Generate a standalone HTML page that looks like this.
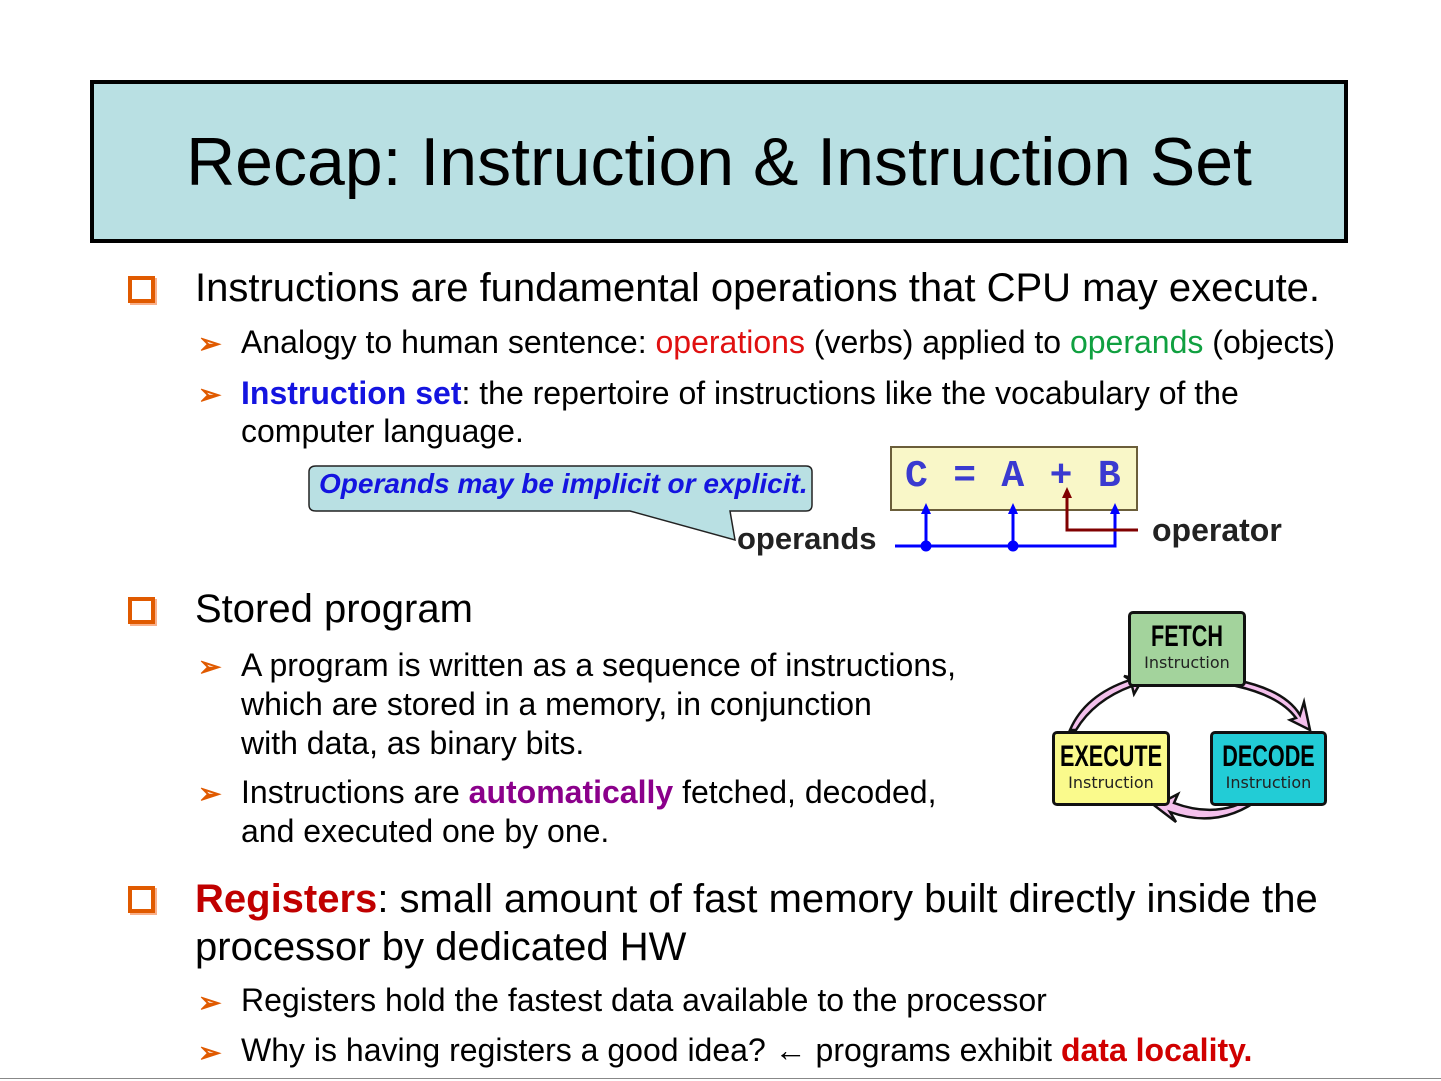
<!DOCTYPE html>
<html><head><meta charset="utf-8"><style>
body{margin:0;width:1441px;height:1081px;background:#fff;position:relative;overflow:hidden;font-family:"Liberation Sans",sans-serif;}
.a{position:absolute;white-space:nowrap;}
.t1{font-size:40px;color:#000;}
.t2{font-size:32px;color:#000;}
.sq{position:absolute;width:19px;height:19px;border:4px solid #e05a00;box-shadow:2px 2px 0 #f9b08a;}
.ar{position:absolute;color:#e05a00;font-size:28px;font-weight:bold;}
.box{position:absolute;border:3px solid #111;border-radius:5px;text-align:center;font-family:"DejaVu Sans",sans-serif;}
.box b{display:block;font-family:"Liberation Sans Narrow","Liberation Sans",sans-serif;font-weight:900;font-size:30px;line-height:32px;margin-top:7px;transform:scaleX(0.72);white-space:nowrap;margin-left:-30px;margin-right:-30px;}
.box span{display:block;font-size:16px;color:#222;}
</style></head><body>
<div class="a" style="left:90px;top:80px;width:1250px;height:155px;background:#b9e0e3;border:4px solid #000;"></div>
<div class="a" style="left:90px;top:123px;width:1258px;text-align:center;font-size:68px;">Recap: Instruction &amp; Instruction Set</div>

<div class="sq" style="left:128px;top:276px"></div>
<div class="a t1" style="left:195px;top:266px">Instructions are fundamental operations that CPU may execute.</div>
<div class="ar" style="left:198px;top:327px">➢</div>
<div class="a t2" style="left:241px;top:324px">Analogy to human sentence: <span style="color:#e01010">operations</span> (verbs) applied to <span style="color:#10a040">operands</span> (objects)</div>
<div class="ar" style="left:198px;top:378px">➢</div>
<div class="a t2" style="left:241px;top:375px"><b style="color:#1414e0">Instruction set</b>: the repertoire of instructions like the vocabulary of the</div>
<div class="a t2" style="left:241px;top:413px">computer language.</div>

<svg class="a" style="left:0;top:0" width="1441" height="1081">
<path d="M316,466 H806 Q812,466 812,472 V505 Q812,511 806,511 H730 L735,540 L630,511 H316 Q309,511 309,505 V472 Q309,466 316,466Z" fill="#b9e0e3" stroke="#222" stroke-width="1.5"/>
<rect x="891" y="447" width="246" height="63" fill="#f9f7c8" stroke="#6b5e3a" stroke-width="2"/>
<g fill="#0000ff" stroke="#0000ff">
<path d="M895,546 H1115 V512 M926,546 V512 M1013,546 V512" fill="none" stroke-width="3"/>
<circle cx="926" cy="546" r="5"/><circle cx="1013" cy="546" r="5"/>
<path d="M926,503 L921,514 H931Z M1013,503 L1008,514 H1018Z M1115,503 L1110,514 H1120Z" stroke="none"/>
</g>
<path d="M1138,530 H1067 V496" fill="none" stroke="#800000" stroke-width="3"/>
<path d="M1067,487 L1062,498 H1072Z" fill="#800000"/>
<g fill="#f4c0ec" stroke="#111" stroke-width="2.5">
<path d="M1070,730 Q1085,695 1130,680 L1124,676 L1142,680 L1134,694 L1132,686 Q1094,700 1076,730Z"/>
<path d="M1236,680 Q1285,690 1300,715 L1304,702 L1310,730 L1290,720 L1296,718 Q1280,696 1236,686Z"/>
<path d="M1262,797 Q1220,830 1170,812 L1176,822 L1155,806 L1178,794 L1174,803 Q1220,820 1256,795Z"/>
</g>
</svg>
<div class="a" style="left:319px;top:468px;font-size:28px;font-weight:bold;font-style:italic;color:#1414e0">Operands may be implicit or explicit.</div>
<div class="a" style="left:905px;top:455px;font-family:'Liberation Mono',monospace;font-weight:bold;font-size:38px;letter-spacing:1.3px;color:#3a3ad0;">C = A + B</div>
<div class="a" style="left:737px;top:521px;font-size:31px;font-weight:bold;color:#222">operands</div>
<div class="a" style="left:1152px;top:512px;font-size:32px;font-weight:bold;color:#222">operator</div>

<div class="sq" style="left:128px;top:597px"></div>
<div class="a t1" style="left:195px;top:587px">Stored program</div>
<div class="ar" style="left:198px;top:650px">➢</div>
<div class="a t2" style="left:241px;top:646px;line-height:39px">A program is written as a sequence of instructions,<br>which are stored in a memory, in conjunction<br>with data, as binary bits.</div>
<div class="ar" style="left:198px;top:777px">➢</div>
<div class="a t2" style="left:241px;top:773px;line-height:39px">Instructions are <b style="color:#8b008b">automatically</b> fetched, decoded,<br>and executed one by one.</div>

<div class="box" style="left:1128px;top:611px;width:112px;height:70px;background:#a3d39c"><b>FETCH</b><span>Instruction</span></div>
<div class="box" style="left:1052px;top:731px;width:112px;height:69px;background:#fafa8c"><b>EXECUTE</b><span>Instruction</span></div>
<div class="box" style="left:1210px;top:731px;width:111px;height:69px;background:#22ccd6"><b>DECODE</b><span>Instruction</span></div>

<div class="sq" style="left:128px;top:886px"></div>
<div class="a t1" style="left:195px;top:875px;line-height:48px"><b style="color:#c00000">Registers</b>: small amount of fast memory built directly inside the<br>processor by dedicated HW</div>
<div class="ar" style="left:198px;top:986px">➢</div>
<div class="a t2" style="left:241px;top:982px">Registers hold the fastest data available to the processor</div>
<div class="ar" style="left:198px;top:1036px">➢</div>
<div class="a t2" style="left:241px;top:1032px">Why is having registers a good idea? ← programs exhibit <b style="color:#d00000">data locality.</b></div>
<div class="a" style="left:0;top:1078px;width:1441px;height:1px;background:#888"></div>
</body></html>
